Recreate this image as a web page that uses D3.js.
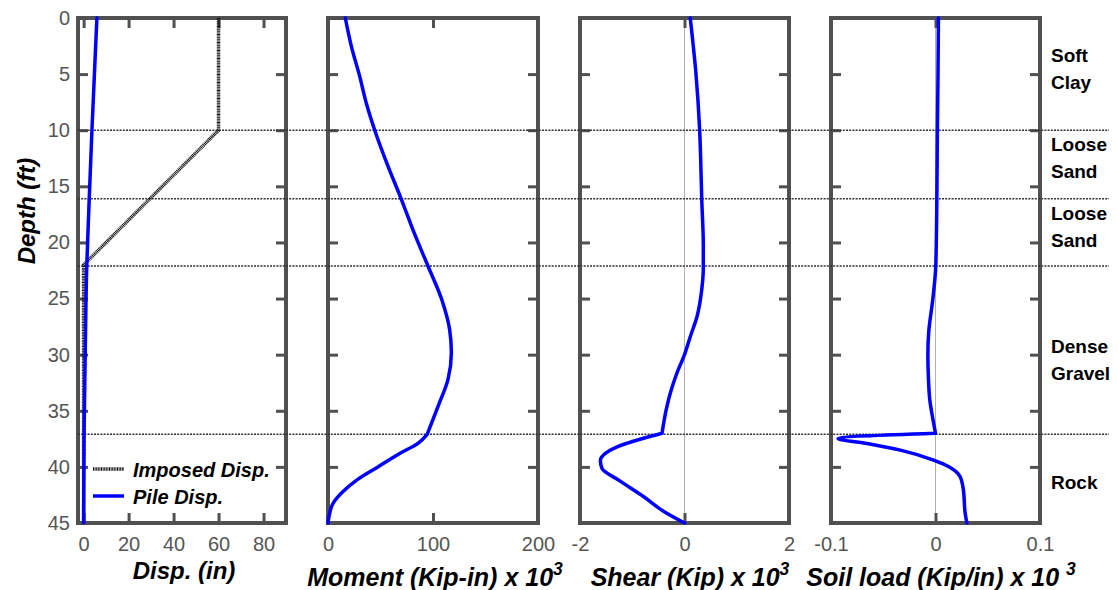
<!DOCTYPE html>
<html>
<head>
<meta charset="utf-8">
<script src="https://cdn.jsdelivr.net/npm/d3@7"></script>
<style>
  html, body { margin: 0; padding: 0; background: #fff; }
  svg { display: block; font-family: "Liberation Sans", Arial, sans-serif; }
</style>
</head>
<body>
<svg id="chart" width="1117" height="590"></svg>
<script>
// ---------------- DATA ----------------
const depthTicks = [0, 5, 10, 15, 20, 25, 30, 35, 40, 45];
const layerDepths = [10, 16.1, 22.1, 37.1];
const layerNames = [["Soft", "Clay"], ["Loose", "Sand"], ["Loose", "Sand"], ["Dense", "Gravel"], ["Rock"]];
const layerLabelDepths = [4.5, 12.5, 18.6, 30.5, 41.4];

// Panel 1: displacement (in)
const dispTicks = [0, 20, 40, 60, 80];
const imposedDepth = [0, 10, 22, 45];
const imposedDisp = [60, 60, 0, 0];
const pileDepth = [0, 5, 10, 16.1, 22.1, 30, 37.1, 45];
const pileDisp = [5.9, 4.8, 3.7, 2.5, 1.4, 0.7, 0.2, 0.0];

// Panel 2: moment (kip-in x 10^3)
const momentTicks = [0, 100, 200];
const momentDepth = [0, 2.5, 5.2, 7.6, 10, 13.2, 16, 18.9, 22.1, 25, 27.8, 29.8, 32.2, 34.6, 37.1, 37.9, 38.8, 40, 41.2, 42.2, 43.25, 44.4, 45];
const momentVal = [16.5, 22.2, 30.2, 36.5, 44.5, 57.1, 69.2, 81, 95.2, 108, 115.9, 117.5, 114.3, 104.8, 94.5, 85.7, 68.3, 47.6, 27, 14.3, 4.8, 1, 0];

// Panel 3: shear (kip x 10^3)
const shearTicks = [-2, 0, 2];
const shearDepth = [0, 5, 10, 14.4, 16.1, 20.3, 22.2, 24.2, 26.6, 28.4, 30, 31.7, 33.4, 34.9, 37.0, 37.47, 38.21, 38.81, 39.4, 40.14, 41.18, 42.66, 44.14, 45];
const shearVal = [0.11, 0.22, 0.29, 0.32, 0.33, 0.36, 0.36, 0.33, 0.24, 0.11, 0, -0.15, -0.27, -0.35, -0.43, -0.8, -1.29, -1.52, -1.61, -1.58, -1.26, -0.78, -0.34, 0];

// Panel 4: soil load (kip/in x 10^3)
const soilTicks = [-0.1, 0, 0.1];
const soilDepth = [0, 5, 10, 16, 22, 25, 28, 30, 32, 34, 36, 37.0, 37.47, 37.92, 38.51, 39.4, 40.05, 40.88, 42.07, 44.14, 45];
const soilVal = [0.0028, 0.0024, 0.0018, 0.0013, 0.0003, -0.0025, -0.0065, -0.0073, -0.0068, -0.0055, -0.002, 0, -0.0933, -0.0655, -0.0337, -0.0019, 0.014, 0.0236, 0.0267, 0.0284, 0.030];

// ---------------- LAYOUT ----------------
const svg = d3.select("#chart");
const yTop = 18, yBot = 523;
const axisColor = "#505050";
const y = d3.scaleLinear().domain([0, 45]).range([yTop, yBot]);
const rockDepth = layerDepths[layerDepths.length - 1];

const fmt = v => String(v).replace("\u2212", "-");

const panels = [
  { x0: 78, x1: 286, domain: [-2.5, 90], ticks: dispTicks, zero: false, yLabels: true },
  { x0: 328, x1: 538, domain: [0, 200], ticks: momentTicks, zero: false },
  { x0: 580, x1: 789, domain: [-2, 2], ticks: shearTicks, zero: true },
  { x0: 831, x1: 1040, domain: [-0.1, 0.1], ticks: soilTicks, zero: true }
];
panels.forEach(p => { p.x = d3.scaleLinear().domain(p.domain).range([p.x0, p.x1]); });

// zero lines
panels.filter(p => p.zero).forEach(p => {
  svg.append("line")
    .attr("x1", p.x(0)).attr("x2", p.x(0))
    .attr("y1", yTop).attr("y2", yBot)
    .attr("stroke", "#b0b0b0").attr("stroke-width", 1);
});

// axes (ticks inside)
function styleAxis(g) {
  g.select(".domain").remove();
  g.selectAll(".tick line").attr("stroke", axisColor).attr("stroke-width", 3);
  g.selectAll(".tick text").attr("fill", "#555").attr("font-size", 20);
}
panels.forEach((p, i) => {
  svg.append("g").attr("transform", `translate(0,${yBot})`)
    .call(d3.axisBottom(p.x).tickValues(p.ticks).tickSize(-10).tickPadding(14).tickFormat(fmt))
    .call(styleAxis);
  svg.append("g").attr("transform", `translate(0,${yTop})`)
    .call(d3.axisTop(p.x).tickValues(p.ticks).tickSize(-10).tickFormat(""))
    .call(styleAxis);
  svg.append("g").attr("transform", `translate(${p.x0},0)`)
    .call(d3.axisLeft(y).tickValues(depthTicks).tickSize(-10).tickPadding(8).tickFormat(p.yLabels ? fmt : ""))
    .call(styleAxis);
  svg.append("g").attr("transform", `translate(${p.x1},0)`)
    .call(d3.axisRight(y).tickValues(depthTicks).tickSize(-10).tickFormat(""))
    .call(styleAxis);
  svg.append("rect")
    .attr("x", p.x0).attr("y", yTop)
    .attr("width", p.x1 - p.x0).attr("height", yBot - yTop)
    .attr("fill", "none").attr("stroke", axisColor).attr("stroke-width", 4);
});

// layer boundary lines
layerDepths.forEach(d => {
  svg.append("line")
    .attr("x1", 78).attr("x2", 1109)
    .attr("y1", y(d)).attr("y2", y(d))
    .attr("stroke", "#333").attr("stroke-width", 1.5)
    .attr("stroke-dasharray", "2,1.2");
});

// curves (split at the rock interface so the kink stays sharp)
function drawCurve(p, depths, vals, opts) {
  const pts = depths.map((d, i) => [vals[i], d]);
  let pieces = [pts];
  if (opts.split) {
    let k = -1;
    pts.forEach((q, i) => { if (q[1] <= rockDepth) k = i; });
    pieces = [pts.slice(0, k + 1), pts.slice(k)];
  }
  const line = d3.line()
    .x(d => p.x(d[0])).y(d => y(d[1]))
    .curve(opts.curve || d3.curveMonotoneY);
  const d = pieces.map(pc => line(pc)).join("");
  svg.append("path")
    .attr("d", d)
    .attr("fill", "none")
    .attr("stroke", opts.color)
    .attr("stroke-width", opts.width)
    .attr("stroke-dasharray", opts.dash || null)
    .attr("stroke-linejoin", opts.dash ? "miter" : "round")
    .attr("stroke-linecap", opts.dash ? "butt" : "round");
}
drawCurve(panels[0], imposedDepth, imposedDisp, { color: "#111", width: 3.5, dash: "1,0.6", curve: d3.curveLinear });
drawCurve(panels[0], pileDepth, pileDisp, { color: "#0000ff", width: 3.5 });
drawCurve(panels[1], momentDepth, momentVal, { color: "#0000ff", width: 3.5, split: true });
drawCurve(panels[2], shearDepth, shearVal, { color: "#0000ff", width: 3.5, split: true });
drawCurve(panels[3], soilDepth, soilVal, { color: "#0000ff", width: 3.5, split: true });

// legend
const legendItems = [
  { label: "Imposed Disp.", color: "#111", dash: "1,0.6" },
  { label: "Pile Disp.", color: "#0000ff", dash: null }
];
legendItems.forEach((it, i) => {
  const ly = 469 + i * 27;
  svg.append("line").attr("x1", 93).attr("x2", 124).attr("y1", ly).attr("y2", ly)
    .attr("stroke", it.color).attr("stroke-width", 3.5).attr("stroke-dasharray", it.dash);
  svg.append("text").attr("x", 133).attr("y", ly + 8)
    .attr("font-size", 20).attr("font-weight", "bold").attr("font-style", "italic")
    .attr("fill", "#000").text(it.label);
});

// layer labels
layerNames.forEach((lines, i) => {
  const cy = y(layerLabelDepths[i]);
  const n = lines.length;
  lines.forEach((t, j) => {
    svg.append("text")
      .attr("x", 1051)
      .attr("y", cy + (j - (n - 1) / 2) * 27 + 6.5)
      .attr("font-size", 19).attr("font-weight", "bold").attr("fill", "#000")
      .text(t);
  });
});

// axis titles
function title(x, yy, main, sup, size) {
  const t = svg.append("text").attr("x", x).attr("y", yy)
    .attr("text-anchor", "middle")
    .attr("font-size", size).attr("font-weight", "bold").attr("font-style", "italic")
    .attr("fill", "#000").style("white-space", "pre");
  t.append("tspan").text(main);
  if (sup) t.append("tspan").attr("dy", -11).attr("font-size", size * 0.7).text(sup);
}
title(184, 579, "Disp. (in)", null, 24);
title(435, 586, "Moment (Kip-in) x 10", "3", 25);
title(690, 586, "Shear (Kip) x 10", "3", 25);
title(941, 586, "Soil load (Kip/in) x 10 ", "3", 25);

svg.append("text")
  .attr("transform", `translate(35,${211}) rotate(-90)`)
  .attr("text-anchor", "middle")
  .attr("font-size", 24).attr("font-weight", "bold").attr("font-style", "italic")
  .attr("fill", "#000").text("Depth (ft)");
</script>
</body>
</html>
